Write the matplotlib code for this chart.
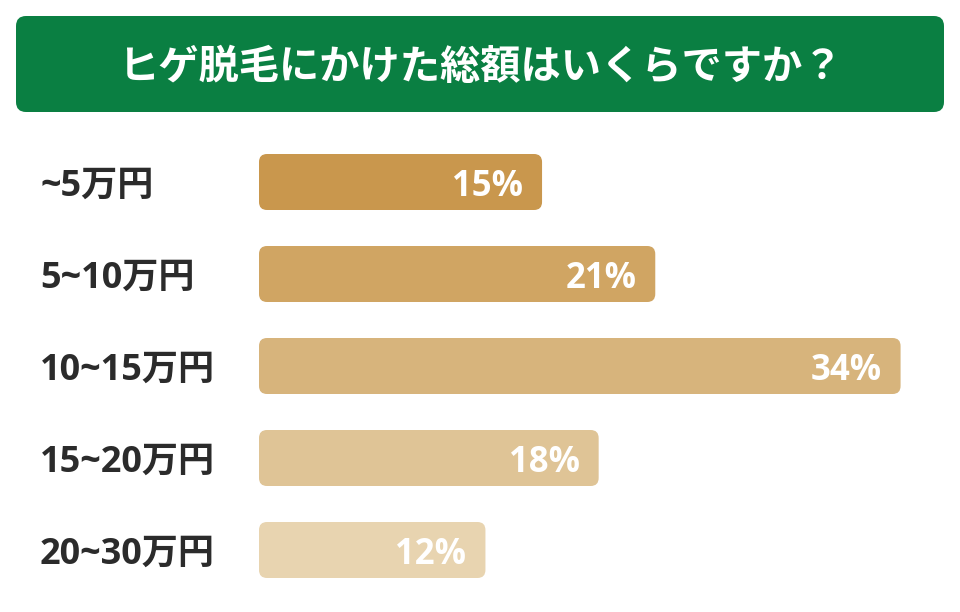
import matplotlib
matplotlib.use("Agg")
import matplotlib.pyplot as plt
from matplotlib.patches import FancyBboxPatch
from matplotlib.transforms import blended_transform_factory

# data
categories = ["~5万円", "5~10万円", "10~15万円", "15~20万円", "20~30万円"]
values = [15, 21, 34, 18, 12]
bar_colors = ["#c9974d", "#d0a563", "#d7b47c", "#dfc496", "#e8d4b0"]
title = "ヒゲ脱毛にかけた総額はいくらですか？"

W, H = 960, 612
fig = plt.figure(figsize=(W / 100, H / 100), dpi=100)
fig.patch.set_facecolor("white")

fonts = ["Open Sans", "Noto Sans CJK JP", "DejaVu Sans"]

# header box
hx0, hy0, hw, hh = 16, 16, 928, 96
hax = fig.add_axes([hx0 / W, 1 - (hy0 + hh) / H, hw / W, hh / H])
hax.set_xlim(0, 1)
hax.set_ylim(0, 1)
hax.axis("off")
r = 10 / hw
hax.add_patch(FancyBboxPatch((0, 0), 1, 1,
                             boxstyle=f"round,pad=0,rounding_size={r}",
                             mutation_aspect=hw / hh,
                             facecolor="#0a7f42", edgecolor="none",
                             transform=hax.transAxes, clip_on=False))
hax.text(0.5, 0.46, title, color="white", fontsize=29, fontweight="bold",
         family=["Noto Sans CJK JP", "DejaVu Sans"],
         ha="center", va="center", transform=hax.transAxes)

# bar area
px_per_pct = 18.87
left_px, right_px = 259, 944
top_px, row_px = 136, 92
n = len(categories)
ax = fig.add_axes([left_px / W, 1 - (top_px + n * row_px) / H,
                   (right_px - left_px) / W, n * row_px / H])
ax.set_xlim(0, (right_px - left_px) / px_per_pct)
ax.set_ylim(n - 0.5, -0.5)
ax.axis("off")
label_tf = blended_transform_factory(fig.transFigure, ax.transData)

bar_h = 56 / row_px
rad = 8 / px_per_pct
aspect = (8 / row_px) / rad
for i, (v, c) in enumerate(zip(values, bar_colors)):
    ax.add_patch(FancyBboxPatch((0, i - bar_h / 2), v, bar_h,
                                boxstyle=f"round,pad=0,rounding_size={rad}",
                                mutation_aspect=aspect,
                                facecolor=c, edgecolor="none"))
    ax.annotate(f"{v}%", xy=(v, i), xytext=(-19, 0), textcoords="offset pixels",
                ha="right", va="center_baseline", color="white",
                fontsize=25, fontweight="bold", family=fonts)
    ax.text(40 / W, i, categories[i], color="#2b2b2b", fontsize=26,
            fontweight="bold", family=fonts, ha="left", va="center_baseline",
            transform=label_tf)

fig.savefig("out.png", dpi=100)
